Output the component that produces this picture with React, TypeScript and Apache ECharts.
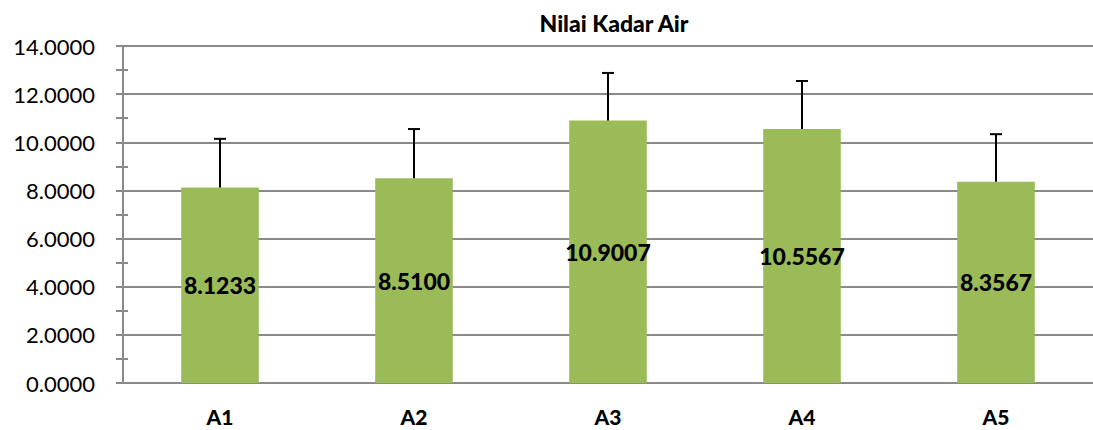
import React, { useEffect, useRef } from "react";
import * as echarts from "echarts";

const categories = ["A1", "A2", "A3", "A4", "A5"];
const values = [8.1233, 8.51, 10.9007, 10.5567, 8.3567];
const errors = [2.02, 2.04, 1.98, 1.99, 1.98];
const yTicks = { min: 0, max: 14, interval: 2 };

export default function App() {
  const ref = useRef<HTMLDivElement>(null);
  useEffect(() => {
    if (!ref.current) return;
    const chart = echarts.init(ref.current, null, { renderer: "svg" });
    const font = "Lato, 'Liberation Sans', sans-serif";
    const gridColor = "#8a8a8a";
    chart.setOption({
      animation: false,
      backgroundColor: "#ffffff",
      title: {
        text: "Nilai Kadar Air",
        left: 609,
        textAlign: "center",
        top: 6,
        textStyle: { fontFamily: font, fontWeight: 900, fontSize: 23, color: "#000" },
      },
      grid: { left: 123, right: 0, top: 46, bottom: 47, containLabel: false },
      xAxis: {
        type: "category",
        data: categories,
        axisLine: { show: true, lineStyle: { color: gridColor, width: 2 } },
        axisTick: { show: false },
        axisLabel: {
          fontFamily: font,
          fontWeight: 900,
          fontSize: 21,
          color: "#000",
          margin: 23,
        },
      },
      yAxis: [
        {
          type: "value",
          min: yTicks.min,
          max: yTicks.max,
          interval: yTicks.interval,
          axisLine: { show: true, lineStyle: { color: gridColor, width: 2 } },
          axisTick: { show: true, length: 7, lineStyle: { color: gridColor, width: 2 } },
          splitLine: { show: true, lineStyle: { color: gridColor, width: 2 } },
          axisLabel: {
            fontFamily: font,
            fontSize: 22,
            color: "#000",
            margin: 28,
            formatter: (v: number) => v.toFixed(4),
          },
        },
        {
          type: "value",
          min: yTicks.min,
          max: yTicks.max,
          interval: yTicks.interval,
          position: "left",
          offset: -5,
          axisLine: { show: false },
          axisTick: { show: false },
          axisLabel: { show: false },
          splitLine: { show: false },
          minorTick: { show: true, splitNumber: 2, length: 12, lineStyle: { color: gridColor, width: 2 } },
        },
      ],
      series: [
        {
          type: "bar",
          data: values,
          barWidth: "40%",
          itemStyle: { color: "#9BBB59" },
          label: {
            show: true,
            position: "inside",
            fontFamily: font,
            fontWeight: 900,
            fontSize: 23,
            color: "#000",
            formatter: (p: any) => Number(p.value).toFixed(4),
          },
          z: 2,
        },
        {
          type: "custom",
          data: values.map((v, i) => [i, v, errors[i]]),
          z: 3,
          renderItem: (params: any, api: any) => {
            const i = api.value(0);
            const v = api.value(1);
            const e = api.value(2);
            const base = api.coord([i, v]);
            const top = api.coord([i, v + e]);
            const style = { stroke: "#000", lineWidth: 2 };
            return {
              type: "group",
              children: [
                { type: "line", shape: { x1: base[0], y1: base[1], x2: top[0], y2: top[1] }, style },
                { type: "line", shape: { x1: top[0] - 6, y1: top[1], x2: top[0] + 6, y2: top[1] }, style },
              ],
            };
          },
        },
      ],
    });
    return () => chart.dispose();
  }, []);
  return (
    <div
      ref={ref}
      style={{ position: "fixed", left: 0, top: 0, width: 1093, height: 430 }}
    />
  );
}
